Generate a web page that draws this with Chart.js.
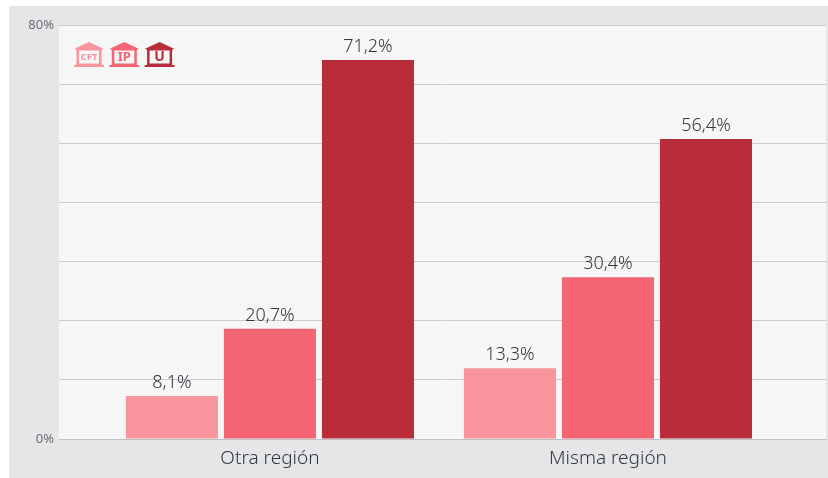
<!DOCTYPE html>
<html><head><meta charset="utf-8">
<style>html,body{margin:0;padding:0;background:#fff}#w{width:828px;height:478px;position:relative}</style>
<script src="https://cdn.jsdelivr.net/npm/chart.js@4"></script>
</head><body><div id="w"><canvas id="c" width="828" height="478"></canvas></div>
<script>
const categories = ['Otra región', 'Misma región'];
const seriesNames = ['CFT', 'IP', 'U'];
const cft = [8.1, 13.3];
const ip = [20.7, 30.4];
const u = [71.2, 56.4];
const yTickLabels = ['0%', '', '', '', '', '', '', '80%'];
const yMax = 77.8;
const colors = ['#F8959C', '#F46573', '#B92D3A'];
const font = '"Noto Sans", sans-serif';

const fmt = v => v.toFixed(1).replace('.', ',') + '%';
const toPts = arr => arr.map((v, i) => ({x: i, y: v}));

function building(ctx, x, y, color, label, fs) {
  ctx.save();
  ctx.fillStyle = color;
  ctx.beginPath();
  ctx.moveTo(x + 15, y); ctx.lineTo(x + 30, y + 7); ctx.lineTo(x, y + 7); ctx.closePath(); ctx.fill();
  ctx.fillRect(x + 2, y + 7, 26, 1.5);
  ctx.fillRect(x + 2.5, y + 8, 2.5, 15);
  ctx.fillRect(x + 25, y + 8, 2.5, 15);
  ctx.fillRect(x + 2.5, y + 21.5, 25, 1.5);
  ctx.fillRect(x, y + 23, 30, 2);
  ctx.font = '700 ' + fs + 'px ' + font;
  ctx.textAlign = 'center'; ctx.textBaseline = 'middle';
  ctx.fillText(label, x + 15, y + 15);
  ctx.restore();
}

const decor = {
  id: 'decor',
  beforeDraw(chart) {
    const {ctx, chartArea: a, width, height} = chart;
    ctx.save();
    ctx.fillStyle = '#E5E6E8';
    ctx.fillRect(9, 6, width - 9, height - 6);
    ctx.fillStyle = '#F6F6F6';
    ctx.fillRect(a.left, a.top, a.right - a.left, a.bottom - a.top);
    ctx.restore();
  },
  afterDatasetsDraw(chart) {
    const {ctx} = chart;
    ctx.save();
    ctx.font = '300 18px ' + font;
    ctx.fillStyle = '#33383E';
    ctx.textAlign = 'center';
    ctx.textBaseline = 'alphabetic';
    chart.data.datasets.forEach((ds, i) => {
      chart.getDatasetMeta(i).data.forEach((el, j) => {
        ctx.fillText(fmt(ds.data[j].y), el.x, el.y - 8);
      });
    });
    ctx.restore();
    const sizes = [9.5, 13, 14];
    seriesNames.forEach((n, i) => building(ctx, 74 + i * 35.3, 42, colors[i], n, sizes[i]));
  }
};

new Chart(document.getElementById('c'), {
  type: 'bar',
  plugins: [decor],
  data: {
    datasets: [
      {label: seriesNames[0], data: toPts(cft), backgroundColor: colors[0]},
      {label: seriesNames[1], data: toPts(ip), backgroundColor: colors[1]},
      {label: seriesNames[2], data: toPts(u), backgroundColor: colors[2]}
    ]
  },
  options: {
    responsive: false,
    animation: false,
    layout: {padding: {top: 25, right: 2, left: 0, bottom: 0}},
    categoryPercentage: 0.87,
    barPercentage: 0.939,
    plugins: {legend: {display: false}, tooltip: {enabled: false}},
    scales: {
      x: {
        type: 'linear',
        offset: false,
        min: -0.624,
        max: 1.645,
        afterBuildTicks(s) { s.ticks = categories.map((_, i) => ({value: i})); },
        afterFit(s) { s.height = 39; },
        grid: {display: false},
        border: {color: '#BFC1C6', width: 1},
        ticks: {
          autoSkip: false, maxRotation: 0, padding: 0,
          color: '#33383E',
          font: {family: font, size: 19, weight: '300'},
          callback: v => categories[v]
        }
      },
      y: {
        min: 0,
        max: yMax,
        afterBuildTicks(s) { s.ticks = yTickLabels.map((_, i) => ({value: yMax * i / (yTickLabels.length - 1)})); },
        afterFit(s) { s.width = 59; },
        grid: {color: '#CACBD0', lineWidth: 1, drawTicks: false, offset: false},
        border: {display: false},
        ticks: {
          autoSkip: false, padding: 5,
          color: '#6A6D72',
          font: {family: font, size: 13, weight: '400'},
          callback: (v, i) => yTickLabels[i]
        }
      }
    }
  }
});
</script></body></html>
